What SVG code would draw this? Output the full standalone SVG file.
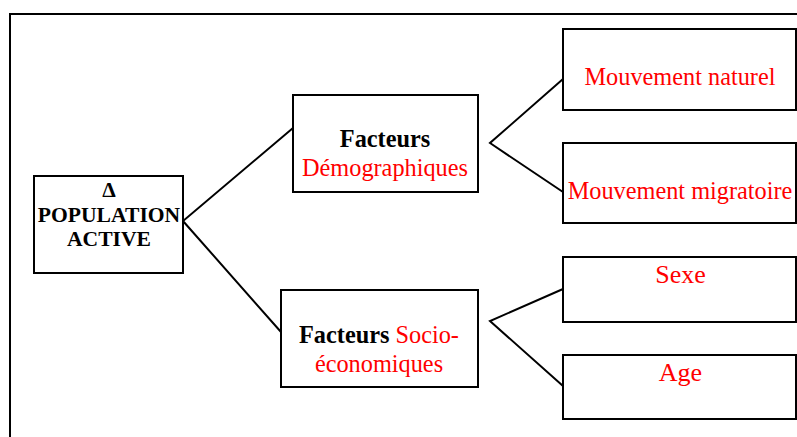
<svg xmlns="http://www.w3.org/2000/svg" width="797" height="437" viewBox="0 0 797 437">
  <style>
    .box { fill: #fff; stroke: #000; stroke-width: 2; }
    .link { fill: none; stroke: #000; stroke-width: 2; stroke-linejoin: miter; }
    .frame { fill: none; stroke: #000; stroke-width: 2; }
    text { font-family: "Liberation Serif", "Times New Roman", serif; text-anchor: middle; }
    .t { font-size: 24.3px; }
    .big { font-size: 26px; }
    .root { font-size: 21.6px; font-weight: bold; fill: #000; }
    .b { font-weight: bold; fill: #000; }
    .r { fill: #ff0000; }
  </style>

  <!-- outer frame -->
  <path class="frame" d="M10,437 V14 H797"/>

  <!-- connectors -->
  <g id="connectors">
    <path class="link" d="M293,128 L183,221 L281,332"/>
    <path class="link" d="M563,79 L490,143 L563,192"/>
    <path class="link" d="M563,289 L490,321 L563,386"/>
  </g>

  <g id="population-active">
    <rect class="box" x="34" y="176" width="149" height="97"/>
    <text class="root" x="109" y="197">Δ</text>
    <text class="root" x="109" y="222">POPULATION</text>
    <text class="root" x="109" y="246">ACTIVE</text>
  </g>

  <g id="facteurs-demographiques">
    <rect class="box" x="293" y="95" width="185" height="97"/>
    <text class="t b" x="385" y="147">Facteurs</text>
    <text class="t r" x="385" y="176">Démographiques</text>
  </g>

  <g id="facteurs-socio-economiques">
    <rect class="box" x="281" y="290" width="197" height="97"/>
    <text class="t" x="379" y="343"><tspan class="b">Facteurs</tspan><tspan class="r"> Socio-</tspan></text>
    <text class="t r" x="379" y="372">économiques</text>
  </g>

  <g id="mouvement-naturel">
    <rect class="box" x="563" y="29" width="233" height="81"/>
    <text class="t r" x="680" y="85">Mouvement naturel</text>
  </g>

  <g id="mouvement-migratoire">
    <rect class="box" x="563" y="143" width="233" height="80"/>
    <text class="t r" x="680" y="199">Mouvement migratoire</text>
  </g>

  <g id="sexe">
    <rect class="box" x="563" y="257" width="233" height="65"/>
    <text class="big r" x="680.5" y="283">Sexe</text>
  </g>

  <g id="age">
    <rect class="box" x="563" y="355" width="233" height="64"/>
    <text class="big r" x="680.5" y="381">Age</text>
  </g>
</svg>
